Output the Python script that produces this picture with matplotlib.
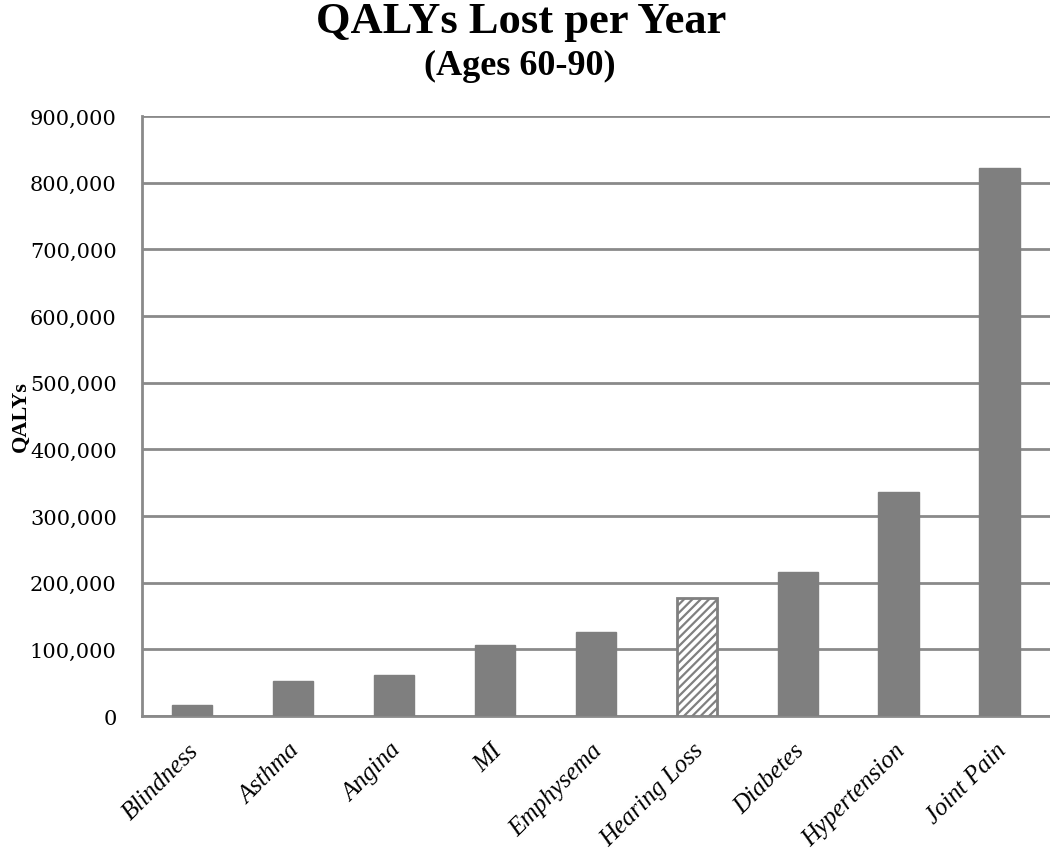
import numpy as np
import matplotlib
matplotlib.use("Agg")
import matplotlib.pyplot as plt
import matplotlib.transforms as mtransforms
from matplotlib.ticker import FuncFormatter

conditions = ["Blindness", "Asthma", "Angina", "MI", "Emphysema",
              "Hearing Loss", "Diabetes", "Hypertension", "Joint Pain"]
qalys = [16500, 52500, 61500, 106500, 126000, 177000, 216500, 336000, 822000]
hatched = "Hearing Loss"

plt.rcParams['hatch.color'] = '#808080'
plt.rcParams['hatch.linewidth'] = 1.6

fig = plt.figure(figsize=(10.5, 8.53), dpi=100)
ax = fig.add_axes([0.135, 0.1594, 0.865, 0.7034])

x = np.arange(len(conditions))
for i, (name, v) in enumerate(zip(conditions, qalys)):
    if name == hatched:
        ax.bar(x[i], v, width=0.4, color='white', edgecolor='#808080',
               linewidth=2, hatch='////', zorder=3)
    else:
        ax.bar(x[i], v, width=0.4, color='#7f7f7f', edgecolor='#7f7f7f',
               linewidth=1, zorder=3)

ax.set_xlim(-0.5, len(conditions) - 0.5)
ax.set_ylim(0, 900000)
ax.set_yticks(np.arange(0, 900001, 100000))
ax.yaxis.set_major_formatter(FuncFormatter(lambda v, p: f"{int(v):,}"))
ax.grid(axis='y', color='#8a8a8a', linewidth=2, zorder=0)
ax.set_axisbelow(True)

for s in ['top', 'right']:
    ax.spines[s].set_visible(False)
for s in ['left', 'bottom']:
    ax.spines[s].set_color('#8a8a8a')
    ax.spines[s].set_linewidth(2)

ax.tick_params(axis='both', length=0)
ax.tick_params(axis='y', pad=18)
for lab in ax.get_yticklabels():
    lab.set_fontfamily('DejaVu Serif')
    lab.set_fontsize(15)

ax.set_xticks(x)
ax.set_xticklabels(conditions, rotation=45, ha='right', va='center',
                   rotation_mode='anchor', fontfamily='Liberation Serif',
                   fontstyle='italic', fontsize=18)
offset = mtransforms.ScaledTranslation(2.5 / 72, -18.5 / 72, fig.dpi_scale_trans)
for lab in ax.get_xticklabels():
    lab.set_transform(lab.get_transform() + offset)

ax.set_ylabel("QALYs", fontfamily='Liberation Serif', fontweight='bold',
              fontsize=16)
ax.yaxis.set_label_coords(-0.122, 0.5)

fig.text(0.496, 1 - 33 / 853, "QALYs Lost per Year", ha='center', va='baseline',
         fontfamily='Liberation Serif', fontweight='bold', fontsize=32)
fig.text(0.495, 1 - 75 / 853, "(Ages 60-90)", ha='center', va='baseline',
         fontfamily='Liberation Serif', fontweight='bold', fontsize=26)

fig.savefig("out.png", dpi=100)
